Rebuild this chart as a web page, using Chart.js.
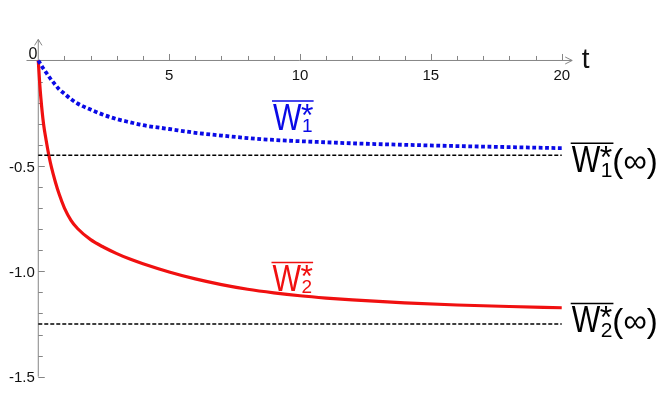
<!DOCTYPE html>
<html>
<head>
<meta charset="utf-8">
<script src="https://cdn.jsdelivr.net/npm/chart.js@4"></script>
<style>
  html, body { margin: 0; padding: 0; background: #fff; }
  #wrap { width: 664px; height: 397px; }
</style>
</head>
<body>
<div id="wrap"><canvas id="chart"></canvas></div>
<script>
// values
const tValues = [0, 0.05, 0.1, 0.2, 0.3, 0.4, 0.5, 0.65, 0.8, 1, 1.25, 1.5, 2, 2.5, 3, 3.5, 4,
                 5, 6, 7, 8, 9, 10, 11, 12, 14, 16, 18, 20];
const w1Values = [0, -0.01, -0.02, -0.039, -0.057, -0.075, -0.092, -0.115, -0.137, -0.158, -0.183, -0.204, -0.233, -0.258, -0.278, -0.293, -0.307,
                  -0.325, -0.343, -0.356, -0.368, -0.377, -0.383, -0.388, -0.393, -0.400, -0.406, -0.411, -0.416];
const w2Values = [0, -0.1, -0.18, -0.30, -0.378, -0.447, -0.505, -0.575, -0.635, -0.70, -0.758, -0.797, -0.85, -0.886, -0.916, -0.942, -0.964,
                  -1.003, -1.036, -1.063, -1.085, -1.102, -1.116, -1.127, -1.136, -1.150, -1.160, -1.167, -1.173];
const limitT = [0, 20];
const w1Limit = [-0.45, -0.45];
const w2Limit = [-1.25, -1.25];

const xMajorTicks = [5, 10, 15, 20];
const xMinorTicks = [1, 2, 3, 4, 6, 7, 8, 9, 11, 12, 13, 14, 16, 17, 18, 19];
const yMajorTicks = [-0.5, -1.0, -1.5];
const yTickLabels = ['-0.5', '-1.0', '-1.5'];
const yMinorTicks = [-0.1, -0.2, -0.3, -0.4, -0.6, -0.7, -0.8, -0.9, -1.1, -1.2, -1.3, -1.4];

function toPoints(xs, ys) {
    return xs.map((x, i) => ({ x: x, y: ys[i] }));
}

const FONT = '"Liberation Sans", Arial, sans-serif';

// draws W with overline, subscript and star; returns x after the star
function drawW(ctx, x, base, sub, color, subDy, subSize) {
    ctx.save();
    ctx.fillStyle = color;
    ctx.strokeStyle = color;
    ctx.textBaseline = 'alphabetic';
    ctx.textAlign = 'left';
    ctx.save();
    ctx.translate(x, base);
    ctx.scale(0.84, 1);
    ctx.font = '36px ' + FONT;
    ctx.fillText('W', 0, 0);
    const wWidth = ctx.measureText('W').width * 0.84;
    ctx.restore();
    const sx = x + wWidth + 0.5;
    ctx.font = subSize + 'px ' + FONT;
    ctx.fillText(sub, sx, base + subDy);
    const subW = ctx.measureText(sub).width;
    ctx.font = '32px ' + FONT;
    ctx.fillText('*', sx - 1, base - 4);
    const starW = ctx.measureText('*').width;
    // overline
    ctx.lineWidth = 1.4;
    ctx.beginPath();
    ctx.moveTo(x - 1, base - 28.5);
    ctx.lineTo(sx + subW + 1, base - 28.5);
    ctx.stroke();
    ctx.restore();
    return sx + Math.max(subW, starW) - 2;
}

const axesPlugin = {
    id: 'axesPlugin',
    beforeDatasetsDraw(chart) {
        const ctx = chart.ctx;
        const xs = chart.scales.x, ys = chart.scales.y;
        const area = chart.chartArea;
        const x0 = xs.getPixelForValue(0);
        const y0 = ys.getPixelForValue(0);
        const yBottom = ys.getPixelForValue(-1.5);
        ctx.save();
        ctx.strokeStyle = '#858585';
        ctx.lineWidth = 1;
        ctx.beginPath();
        // x axis + arrow
        ctx.moveTo(area.left, y0);
        ctx.lineTo(area.right, y0);
        ctx.moveTo(area.right - 7, y0 - 3.5);
        ctx.lineTo(area.right, y0);
        ctx.lineTo(area.right - 7, y0 + 3.5);
        // y axis + arrow
        ctx.moveTo(x0, yBottom);
        ctx.lineTo(x0, area.top);
        ctx.moveTo(x0 - 3.7, area.top + 6);
        ctx.lineTo(x0, area.top);
        ctx.lineTo(x0 + 3.7, area.top + 6);
        // ticks
        xMinorTicks.forEach(v => {
            const px = Math.round(xs.getPixelForValue(v)) + 0.5;
            ctx.moveTo(px, y0);
            ctx.lineTo(px, y0 - 4.5);
        });
        xMajorTicks.forEach(v => {
            const px = Math.round(xs.getPixelForValue(v)) + 0.5;
            ctx.moveTo(px, y0);
            ctx.lineTo(px, y0 - 6.5);
        });
        yMinorTicks.forEach(v => {
            const py = Math.round(ys.getPixelForValue(v)) + 0.5;
            ctx.moveTo(x0, py);
            ctx.lineTo(x0 + 4.5, py);
        });
        yMajorTicks.forEach(v => {
            const py = Math.round(ys.getPixelForValue(v)) + 0.5;
            ctx.moveTo(x0, py);
            ctx.lineTo(x0 + 6.5, py);
        });
        ctx.stroke();

        // tick labels
        ctx.fillStyle = '#111';
        ctx.font = '15px ' + FONT;
        ctx.textAlign = 'center';
        ctx.textBaseline = 'alphabetic';
        xMajorTicks.forEach(v => {
            ctx.fillText(String(v), xs.getPixelForValue(v), y0 + 19.5);
        });
        ctx.textAlign = 'right';
        ctx.font = '16px ' + FONT;
        ctx.fillText('0', x0 - 1, y0 - 1);
        ctx.font = '15px ' + FONT;
        ctx.textBaseline = 'middle';
        yMajorTicks.forEach((v, i) => {
            ctx.fillText(yTickLabels[i], x0 - 3.5, ys.getPixelForValue(v) + 1.5);
        });

        // axis name
        ctx.textAlign = 'left';
        ctx.textBaseline = 'alphabetic';
        ctx.font = '28px ' + FONT;
        ctx.fillText('t', area.right + 9.5, y0 + 8);
        ctx.restore();
    },
    afterDatasetsDraw(chart) {
        const ctx = chart.ctx;
        drawW(ctx, 273, 129.5, '1', '#0a0ae6', 2.5, 19);
        drawW(ctx, 272.5, 291, '2', '#f01010', 1.5, 19);
        let endX = drawW(ctx, 571.7, 171.7, '1', '#000', 5, 21);
        ctx.save();
        ctx.fillStyle = '#000';
        ctx.font = '33px ' + FONT;
        ctx.textBaseline = 'alphabetic';
        ctx.fillText('(\u221E)', endX + 1, 171.7);
        endX = drawW(ctx, 571.7, 332, '2', '#000', 4.7, 21);
        ctx.fillText('(\u221E)', endX + 1, 332);
        ctx.restore();
    }
};

new Chart(document.getElementById('chart'), {
    type: 'line',
    data: {
        datasets: [
            {
                data: toPoints(limitT, w1Limit),
                borderColor: '#000',
                borderWidth: 1.5,
                borderDash: [4, 2],
                pointRadius: 0
            },
            {
                data: toPoints(limitT, w2Limit),
                borderColor: '#000',
                borderWidth: 1.5,
                borderDash: [4, 2],
                pointRadius: 0
            },
            {
                data: toPoints(tValues, w1Values),
                borderColor: '#0a0ae6',
                borderWidth: 3.8,
                borderDash: [3.8, 2.6],
                borderCapStyle: 'butt',
                cubicInterpolationMode: 'monotone',
                pointRadius: 0
            },
            {
                data: toPoints(tValues, w2Values),
                borderColor: '#f01010',
                borderWidth: 3.2,
                cubicInterpolationMode: 'monotone',
                pointRadius: 0
            }
        ]
    },
    options: {
        responsive: true,
        maintainAspectRatio: false,
        animation: false,
        layout: { padding: { left: 26.5, right: 91.8, top: 39.4, bottom: 20.3 } },
        scales: {
            x: { type: 'linear', min: -0.45, max: 20.4, display: false },
            y: { type: 'linear', min: -1.5, max: 0.1, display: false }
        },
        plugins: {
            legend: { display: false },
            tooltip: { enabled: false }
        }
    },
    plugins: [axesPlugin]
});
</script>
</body>
</html>
